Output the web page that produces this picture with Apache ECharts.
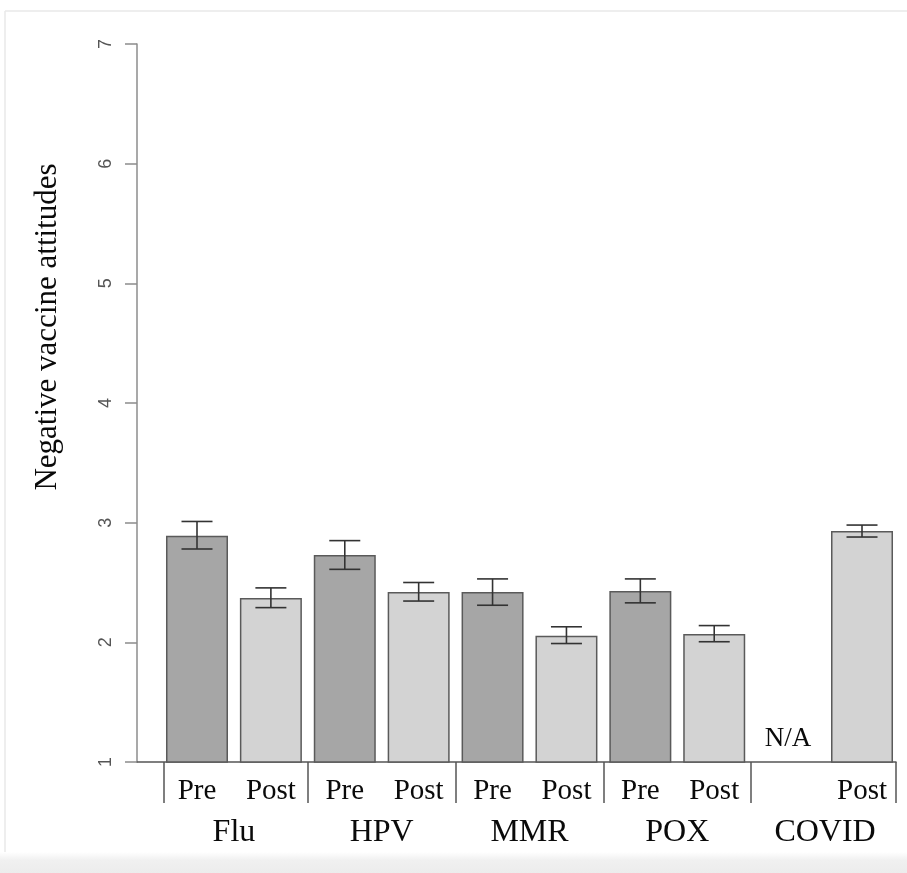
<!DOCTYPE html>
<html>
<head>
<meta charset="utf-8">
<script src="https://cdn.jsdelivr.net/npm/echarts@6/dist/echarts.min.js"></script>
<style>
  html, body { margin: 0; padding: 0; background: #fff; }
  #chart { width: 907px; height: 873px; }
</style>
</head>
<body>
<div id="chart"></div>
<script>
// vaccine groups, each with a Pre and a Post bar
const groups = ["Flu", "HPV", "MMR", "POX", "COVID"];
const slotLabels = ["Pre", "Post", "Pre", "Post", "Pre", "Post", "Pre", "Post", "", "Post"];

// means and error bar ends (null = not measured)
const preMean = [2.89, 2.73, 2.42, 2.43, null];
const preLow = [2.78, 2.61, 2.31, 2.33, null];
const preHigh = [3.01, 2.85, 2.53, 2.53, null];
const postMean = [2.37, 2.42, 2.055, 2.07, 2.93];
const postLow = [2.29, 2.345, 1.99, 2.005, 2.88];
const postHigh = [2.455, 2.5, 2.13, 2.14, 2.98];

// y axis ticks
const yTicks = [1, 2, 3, 4, 5, 6, 7];
// separators between groups, in slot units
const separators = [-0.45, 1.5, 3.5, 5.5, 7.5, 9.45];

const preColor = "#a6a6a6";
const postColor = "#d3d3d3";
const serif = "'Liberation Serif', 'Times New Roman', serif";

const barData = [];
const errData = [];
groups.forEach((g, i) => {
  if (preMean[i] != null) {
    barData.push({ value: [i * 2, preMean[i]], itemStyle: { color: preColor } });
    errData.push([i * 2, preLow[i], preHigh[i]]);
  }
  barData.push({ value: [i * 2 + 1, postMean[i]], itemStyle: { color: postColor } });
  errData.push([i * 2 + 1, postLow[i], postHigh[i]]);
});
const naData = [];
groups.forEach((g, i) => {
  if (preMean[i] == null) naData.push([i * 2, yTicks[0]]);
});

const xMin = -0.812;
const xMax = 9.46;

const chart = echarts.init(document.getElementById("chart"));
chart.setOption({
  animation: false,
  backgroundColor: "#fff",
  grid: { left: 137, right: 11, top: 44, bottom: 111 },
  xAxis: [
    {
      type: "value",
      min: xMin,
      max: xMax,
      position: "bottom",
      axisLine: { show: true, onZero: false, lineStyle: { color: "#555", width: 1.5 } },
      axisTick: {
        show: true,
        customValues: separators,
        length: 41,
        lineStyle: { color: "#555", width: 1.5 },
      },
      axisLabel: {
        customValues: slotLabels.map((s, i) => i),
        formatter: (v) => slotLabels[Math.round(v)],
        fontFamily: serif,
        fontSize: 29,
        color: "#0a0a0a",
        margin: 15,
      },
      splitLine: { show: false },
    },
    {
      type: "value",
      min: xMin,
      max: xMax,
      position: "bottom",
      axisLine: { show: false, onZero: false },
      axisTick: { show: false },
      axisLabel: {
        customValues: groups.map((g, i) => i * 2 + 0.5),
        formatter: (v) => groups[Math.round((v - 0.5) / 2)],
        fontFamily: serif,
        fontSize: 32,
        color: "#0a0a0a",
        margin: 55,
      },
      splitLine: { show: false },
    },
  ],
  yAxis: {
    type: "value",
    min: yTicks[0],
    max: yTicks[yTicks.length - 1],
    interval: 1,
    axisLine: { show: true, onZero: false, lineStyle: { color: "#8c8c8c", width: 1.5 } },
    axisTick: { show: true, length: 12, lineStyle: { color: "#8c8c8c", width: 1.5 } },
    axisLabel: {
      rotate: 90,
      color: "#555",
      fontSize: 18,
      fontFamily: "'Liberation Sans', Arial, sans-serif",
      margin: 22,
    },
    splitLine: { show: false },
  },
  graphic: [
    {
      type: "text",
      x: 48,
      y: 327,
      rotation: Math.PI / 2,
      style: {
        text: "Negative vaccine attitudes",
        font: "31px " + serif,
        fill: "#0a0a0a",
        textAlign: "center",
        textVerticalAlign: "middle",
      },
    },
    { type: "rect", shape: { x: 0, y: 852, width: 907, height: 21 },
      style: { fill: new echarts.graphic.LinearGradient(0, 0, 0, 1, [
        { offset: 0, color: "#ffffff" }, { offset: 0.4, color: "#f0f0f0" }, { offset: 1, color: "#ececec" }]) } },
    { type: "line", shape: { x1: 5, y1: 11, x2: 907, y2: 11 }, style: { stroke: "#e8e8e8", lineWidth: 1.5 } },
    { type: "line", shape: { x1: 5, y1: 11, x2: 5, y2: 852 }, style: { stroke: "#e8e8e8", lineWidth: 1.5 } },
  ],
  series: [
    {
      type: "bar",
      xAxisIndex: 0,
      barWidth: 62,
      data: barData,
      itemStyle: { borderColor: "#5a5a5a", borderWidth: 1.5 },
    },
    {
      type: "custom",
      xAxisIndex: 0,
      z: 5,
      data: errData,
      encode: { x: 0, y: [1, 2] },
      renderItem: (params, api) => {
        const x = api.value(0);
        const lo = api.coord([x, api.value(1)]);
        const hi = api.coord([x, api.value(2)]);
        const half = 15.5;
        const style = { stroke: "#333", lineWidth: 1.6 };
        return {
          type: "group",
          children: [
            { type: "line", shape: { x1: lo[0], y1: lo[1], x2: hi[0], y2: hi[1] }, style },
            { type: "line", shape: { x1: hi[0] - half, y1: hi[1], x2: hi[0] + half, y2: hi[1] }, style },
            { type: "line", shape: { x1: lo[0] - half, y1: lo[1], x2: lo[0] + half, y2: lo[1] }, style },
          ],
        };
      },
    },
    {
      type: "scatter",
      xAxisIndex: 0,
      data: naData,
      symbolSize: 0,
      clip: false,
      itemStyle: { opacity: 1 },
      label: {
        show: true,
        formatter: "N/A",
        position: "top",
        distance: 10,
        fontFamily: serif,
        fontSize: 27,
        color: "#0a0a0a",
        opacity: 1,
      },
    },
  ],
});
</script>
</body>
</html>
